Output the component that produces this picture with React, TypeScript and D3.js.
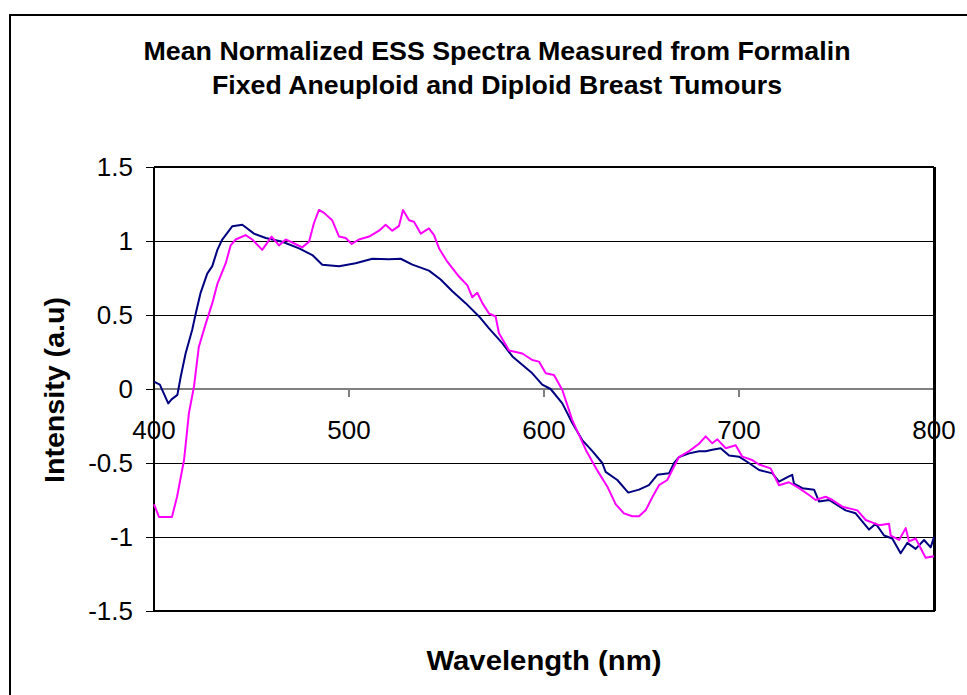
import React from "react";
import * as d3 from "d3";

const titleLines = [
  "Mean Normalized ESS Spectra Measured from Formalin",
  "Fixed Aneuploid and Diploid Breast Tumours",
];
const xTitle = "Wavelength (nm)";
const yTitle = "Intensity (a.u)";
const xTicks = [400, 500, 600, 700, 800];
const yTicks = [1.5, 1, 0.5, 0, -0.5, -1, -1.5];

const navyW = [400, 403, 405, 407.3, 409, 412, 413.7, 416.2, 419.6, 421.4, 423.9, 427.3, 429.9, 432.5, 435, 440.2, 445.3, 451.3, 457.3, 465.8, 474.4, 481.2, 486.3, 494.9, 503.4, 512, 520.5, 526.5, 532.5, 541, 547, 553, 559.8, 566.7, 571.8, 578.6, 583.8, 594, 599.1, 603.4, 609.4, 614.5, 619.6, 624.8, 629.9, 631.6, 637.6, 643.2, 648.7, 653.8, 658.1, 664.1, 666.7, 669.2, 674.4, 679.5, 682.9, 686.3, 690.6, 694.9, 700, 705.1, 710.3, 717.1, 720.5, 725.6, 727.3, 728.2, 732.5, 738.5, 741, 746.2, 754.7, 759.8, 766.7, 770.1, 774.4, 778.6, 782.9, 786.3, 790.6, 794.9, 798.3, 800];
const navyV = [0.05, 0.03, -0.03, -0.097, -0.07, -0.04, 0.083, 0.24, 0.4, 0.51, 0.65, 0.78, 0.83, 0.94, 1.01, 1.1, 1.11, 1.05, 1.02, 0.995, 0.95, 0.905, 0.84, 0.83, 0.85, 0.88, 0.876, 0.88, 0.84, 0.8, 0.74, 0.66, 0.58, 0.49, 0.41, 0.31, 0.22, 0.106, 0.03, 0.0, -0.097, -0.23, -0.345, -0.42, -0.5, -0.56, -0.615, -0.7, -0.68, -0.65, -0.58, -0.57, -0.5, -0.46, -0.435, -0.42, -0.42, -0.41, -0.4, -0.45, -0.457, -0.5, -0.547, -0.57, -0.626, -0.59, -0.58, -0.64, -0.67, -0.68, -0.76, -0.75, -0.82, -0.84, -0.95, -0.91, -0.99, -1.01, -1.11, -1.04, -1.08, -1.02, -1.07, -1.0];

const magW = [400, 402.6, 409.2, 411.8, 415.4, 417.9, 420.5, 423, 426.5, 429.9, 432.5, 436.8, 439.3, 441.9, 447, 450.4, 455.5, 460.3, 464.1, 467.5, 470.9, 476, 479.5, 482, 484.6, 487.2, 491.4, 494.9, 498.3, 501.4, 505.1, 510.3, 515.4, 518.8, 522.2, 525.6, 527.7, 530.8, 533.3, 536.8, 541, 543.6, 546.2, 550.4, 556.4, 560.7, 563.2, 565.8, 568.4, 571.8, 575.2, 576.9, 582.1, 588.9, 594, 597.4, 600.9, 605.1, 609.4, 614.5, 621.4, 627.3, 632.5, 636.8, 641, 645.3, 648.7, 652.1, 655.6, 659, 663.2, 665.8, 669.2, 674.4, 679.5, 682.9, 686.3, 688.9, 693.2, 698.3, 701.7, 706.8, 710.3, 716.2, 720.5, 725.6, 730.8, 735.9, 739.3, 744.4, 747.9, 753, 760.7, 765, 771.8, 776.9, 777.8, 782.1, 785.5, 787.2, 790.6, 795.7, 800];
const magV = [-0.78, -0.865, -0.865, -0.73, -0.48, -0.164, 0.016, 0.286, 0.44, 0.58, 0.71, 0.85, 0.97, 1.01, 1.04, 1.01, 0.94, 1.03, 0.97, 1.01, 0.99, 0.957, 0.995, 1.12, 1.21, 1.19, 1.14, 1.03, 1.02, 0.98, 1.01, 1.03, 1.07, 1.11, 1.07, 1.1, 1.21, 1.14, 1.13, 1.05, 1.085, 1.04, 0.95, 0.86, 0.76, 0.7, 0.62, 0.65, 0.58, 0.51, 0.49, 0.376, 0.26, 0.24, 0.196, 0.185, 0.106, 0.095, -0.007, -0.21, -0.41, -0.55, -0.66, -0.78, -0.84, -0.86, -0.86, -0.82, -0.73, -0.65, -0.615, -0.547, -0.46, -0.42, -0.37, -0.32, -0.367, -0.34, -0.4, -0.38, -0.457, -0.48, -0.51, -0.536, -0.65, -0.63, -0.67, -0.716, -0.75, -0.728, -0.75, -0.795, -0.82, -0.885, -0.92, -0.91, -0.99, -1.02, -0.94, -1.03, -1.01, -1.14, -1.13];

const FONT = "'Liberation Sans', Arial, Helvetica, sans-serif";

export default function App() {
  const W = 967, H = 695;
  const left = 154, right = 934, top = 167, bottom = 611;
  const x = d3.scaleLinear().domain([400, 800]).range([left, right]);
  const y = d3.scaleLinear().domain([-1.5, 1.5]).range([bottom, top]);
  const line = d3.line<[number, number]>().x((d) => x(d[0])).y((d) => y(d[1])).curve(d3.curveLinear);
  const navy = navyW.map((w, i) => [w, navyV[i]] as [number, number]);
  const mag = magW.map((w, i) => [w, magV[i]] as [number, number]);

  return (
    <svg width={W} height={H} style={{ position: "absolute", left: 0, top: 0, background: "#fff" }} fontFamily={FONT}>
      <rect x={0} y={0} width={W} height={H} fill="#fff" />
      <rect x={10} y={15} width={W + 20} height={H + 20} fill="none" stroke="#000" strokeWidth={2} />
      {titleLines.map((t, i) => (
        <text key={i} x={497} y={60 + i * 33.5} textAnchor="middle" fontSize={25} fontWeight="bold" fill="#000"
          textLength={i === 0 ? 707 : 570} lengthAdjust="spacingAndGlyphs">{t}</text>
      ))}
      {/* gridlines */}
      {yTicks.filter((v) => v !== 1.5 && v !== -1.5).map((v) => (
        <line key={"g" + v} x1={left} x2={right} y1={y(v)} y2={y(v)} stroke="#000" strokeWidth={1} shapeRendering="crispEdges" />
      ))}
      {/* x axis at zero */}
      <line x1={left} x2={right} y1={y(0)} y2={y(0)} stroke="#808080" strokeWidth={2} shapeRendering="crispEdges" />
      {xTicks.map((t) => (
        <line key={"xt" + t} x1={x(t)} x2={x(t)} y1={y(0)} y2={y(0) + 8} stroke="#808080" strokeWidth={2} shapeRendering="crispEdges" />
      ))}
      {/* plot frame */}
      <line x1={left} x2={right} y1={top} y2={top} stroke="#000" strokeWidth={2} shapeRendering="crispEdges" />
      <line x1={right} x2={right} y1={top} y2={bottom} stroke="#000" strokeWidth={3} shapeRendering="crispEdges" />
      <line x1={left} x2={right + 1} y1={bottom} y2={bottom} stroke="#000" strokeWidth={2} shapeRendering="crispEdges" />
      <line x1={left} x2={left} y1={top} y2={bottom} stroke="#000" strokeWidth={2} shapeRendering="crispEdges" />
      {yTicks.map((v) => (
        <g key={"yt" + v}>
          <line x1={left - 8} x2={left} y1={y(v)} y2={y(v)} stroke="#000" strokeWidth={1} shapeRendering="crispEdges" />
          <text x={133} y={y(v) + 9} textAnchor="end" fontSize={26} fill="#000">{String(v)}</text>
        </g>
      ))}
      {/* series */}
      <path d={line(navy) || ""} fill="none" stroke="#000080" strokeWidth={2} strokeLinejoin="round" />
      <path d={line(mag) || ""} fill="none" stroke="#FF00FF" strokeWidth={2} strokeLinejoin="round" />
      {xTicks.map((t) => (
        <text key={"xl" + t} x={x(t)} y={439} textAnchor="middle" fontSize={26} fill="#000">{t}</text>
      ))}
      <text x={544} y={670} textAnchor="middle" fontSize={27} fontWeight="bold" fill="#000" textLength={235} lengthAdjust="spacingAndGlyphs">{xTitle}</text>
      <text transform="translate(64,390) rotate(-90)" textAnchor="middle" fontSize={27} fontWeight="bold" fill="#000" textLength={186} lengthAdjust="spacingAndGlyphs">{yTitle}</text>
    </svg>
  );
}
